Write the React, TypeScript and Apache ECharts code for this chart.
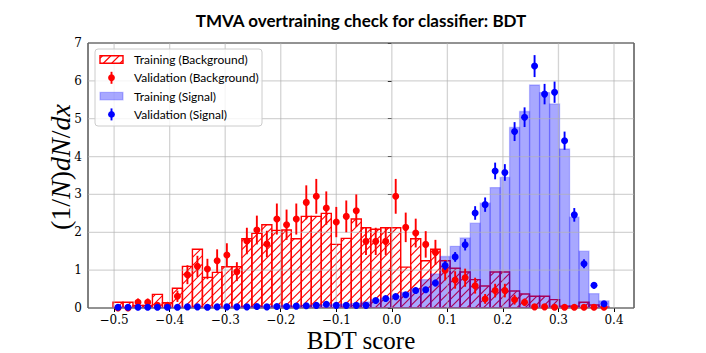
import React, { useEffect, useRef } from 'react';
import * as echarts from 'echarts';

const titleText = 'TMVA overtraining check for classifier: BDT';
const xLabel = 'BDT score';
const legendLabels = ['Training (Background)', 'Validation (Background)', 'Training (Signal)', 'Validation (Signal)'];

const binEdges = [
  -0.502, -0.484, -0.466, -0.448, -0.431, -0.413, -0.395, -0.377, -0.359, -0.341,
  -0.323, -0.306, -0.288, -0.270, -0.252, -0.234, -0.216, -0.198, -0.181, -0.163,
  -0.145, -0.127, -0.109, -0.091, -0.073, -0.055, -0.038, -0.020, -0.002, 0.016,
  0.034, 0.052, 0.070, 0.087, 0.105, 0.123, 0.141, 0.159, 0.177, 0.195,
  0.212, 0.230, 0.248, 0.266, 0.284, 0.302, 0.320, 0.337, 0.355, 0.373, 0.391,
];

const bkgTrain = [
  0.15, 0.15, 0.07, 0.07, 0.36, 0.14, 0.52, 1.10, 1.55, 0.81,
  0.94, 1.09, 1.09, 1.83, 1.97, 2.20, 2.05, 2.06, 1.83, 2.42,
  2.42, 2.50, 1.68, 1.84, 2.35, 2.12, 2.08, 2.12, 2.12, 1.08,
  1.83, 1.25, 1.55, 1.25, 1.05, 0.95, 0.75, 0.58, 0.95, 0.95,
  0.45, 0.37, 0.31, 0.31, 0.22, 0.05, 0.05, 0.15, 0.08, 0.02,
];

const bkgVal = [
  0.00, 0.00, 0.15, 0.15, 0.07, 0.07, 0.31, 0.88, 1.10, 1.03,
  1.25, 1.40, 0.96, 1.77, 2.06, 1.69, 2.35, 2.20, 2.35, 2.79,
  2.95, 2.64, 2.27, 2.42, 2.57, 1.76, 1.76, 1.76, 2.95, 2.13,
  1.98, 1.68, 1.47, 1.00, 0.74, 0.80, 0.59, 0.24, 0.46, 0.46,
  0.22, 0.15, 0.03, 0.03, 0.02, 0.02, 0.02, 0.02, 0.02, 0.02,
];

const bkgValErr = [
  0.00, 0.00, 0.10, 0.10, 0.07, 0.07, 0.15, 0.25, 0.28, 0.27,
  0.30, 0.31, 0.25, 0.35, 0.38, 0.35, 0.41, 0.40, 0.41, 0.45,
  0.46, 0.44, 0.40, 0.42, 0.43, 0.36, 0.36, 0.36, 0.46, 0.39,
  0.38, 0.35, 0.33, 0.27, 0.23, 0.24, 0.21, 0.13, 0.18, 0.18,
  0.13, 0.10, 0.05, 0.05, 0.04, 0.04, 0.04, 0.04, 0.04, 0.04,
];

const sigTrain = [
  0.02, 0.02, 0.01, 0.02, 0.01, 0.02, 0.02, 0.03, 0.02, 0.03,
  0.03, 0.03, 0.04, 0.04, 0.05, 0.05, 0.06, 0.07, 0.06, 0.07,
  0.08, 0.08, 0.10, 0.10, 0.12, 0.16, 0.22, 0.26, 0.32, 0.41,
  0.51, 0.75, 0.90, 1.36, 1.63, 1.85, 2.24, 2.77, 3.18, 3.45,
  4.77, 5.19, 5.89, 5.69, 5.39, 4.20, 2.40, 1.50, 0.38, 0.19,
];

const sigVal = [
  0.02, 0.02, 0.02, 0.02, 0.02, 0.02, 0.02, 0.03, 0.03, 0.02,
  0.03, 0.03, 0.03, 0.03, 0.04, 0.03, 0.04, 0.04, 0.05, 0.06,
  0.07, 0.10, 0.07, 0.07, 0.07, 0.07, 0.20, 0.25, 0.30, 0.35,
  0.46, 0.48, 0.66, 1.12, 1.35, 1.67, 2.51, 2.73, 3.62, 3.58,
  4.66, 5.04, 6.39, 5.65, 5.70, 4.42, 2.46, 1.17, 0.60, 0.11,
];

const sigValErr = [
  0.02, 0.02, 0.02, 0.02, 0.02, 0.02, 0.02, 0.02, 0.02, 0.02,
  0.02, 0.02, 0.02, 0.02, 0.02, 0.02, 0.02, 0.02, 0.03, 0.03,
  0.03, 0.04, 0.03, 0.03, 0.03, 0.03, 0.05, 0.06, 0.06, 0.07,
  0.08, 0.08, 0.09, 0.12, 0.13, 0.15, 0.18, 0.19, 0.22, 0.22,
  0.25, 0.26, 0.29, 0.27, 0.28, 0.24, 0.18, 0.12, 0.09, 0.04,
];

const xTicks = [-0.5, -0.4, -0.3, -0.2, -0.1, 0.0, 0.1, 0.2, 0.3, 0.4];
const yTicks = [0, 1, 2, 3, 4, 5, 6, 7];

const RED = '#ff0000';
const BLUE = '#0000ff';
const SERIF = '"DejaVu Serif", serif';
const SANS = 'Lato, "Open Sans", sans-serif';
const HATCH = 8.33;

function hatchLines(left: number, top: number, right: number, bot: number, color: string, lw: number) {
  const out: any[] = [];
  const kStart = Math.ceil((left + top) / HATCH);
  const kEnd = Math.floor((right + bot) / HATCH);
  for (let k = kStart; k <= kEnd; k++) {
    const c = k * HATCH;
    const xa = Math.max(left, c - bot);
    const xb = Math.min(right, c - top);
    if (xb - xa > 0.05) {
      out.push({
        type: 'line',
        shape: { x1: xa, y1: c - xa, x2: xb, y2: c - xb },
        style: { stroke: color, lineWidth: lw },
      });
    }
  }
  return out;
}

function fmtTick(v: number) {
  const s = Math.abs(v).toFixed(1);
  return v < -1e-9 ? '\u2212' + s : s;
}

export default function App() {
  const ref = useRef<HTMLDivElement>(null);
  useEffect(() => {
    document.body.style.margin = '0';
    const chart = echarts.init(ref.current!, null, { renderer: 'svg' });

    const hist = (vals: number[]) => vals.map((v, i) => [binEdges[i], binEdges[i + 1], v]);
    const centers = binEdges.slice(0, -1).map((e, i) => (e + binEdges[i + 1]) / 2);
    const pts = (vals: number[], errs: number[]) => vals.map((v, i) => [centers[i], v, errs[i]]);

    const renderHatch = (params: any, api: any) => {
      const p0 = api.coord([api.value(0), 0]);
      const p1 = api.coord([api.value(1), api.value(2)]);
      const left = p0[0], bot = p0[1], right = p1[0], top = p1[1];
      const children: any[] = hatchLines(left, top, right, bot, RED, 1.1);
      children.push({
        type: 'rect',
        shape: { x: left, y: top, width: right - left, height: bot - top },
        style: { fill: 'none', stroke: RED, lineWidth: 1.4 },
      });
      return { type: 'group', children };
    };

    const renderFilled = (params: any, api: any) => {
      const p0 = api.coord([api.value(0), 0]);
      const p1 = api.coord([api.value(1), api.value(2)]);
      return {
        type: 'rect',
        shape: { x: p0[0], y: p1[1], width: p1[0] - p0[0], height: p0[1] - p1[1] },
        style: { fill: 'rgba(0,0,255,0.34)', stroke: 'rgba(0,0,255,0.22)', lineWidth: 1.3 },
      };
    };

    const renderErr = (color: string) => (params: any, api: any) => {
      const x = api.value(0), v = api.value(1), e = api.value(2);
      if (!(e > 0)) return { type: 'group', children: [] };
      const a = api.coord([x, Math.max(0, v - e)]);
      const b = api.coord([x, v + e]);
      return {
        type: 'line',
        shape: { x1: a[0], y1: a[1], x2: b[0], y2: b[1] },
        style: { stroke: color, lineWidth: 1.9 },
      };
    };

    const renderVGrid = (params: any, api: any) => {
      const cs = params.coordSys;
      const x = api.coord([api.value(0), 0])[0];
      return {
        type: 'line',
        shape: { x1: x, y1: cs.y, x2: x, y2: cs.y + cs.height },
        style: { stroke: 'rgba(176,176,176,0.55)', lineWidth: 1.3 },
      };
    };
    const renderHGrid = (params: any, api: any) => {
      const cs = params.coordSys;
      const y = api.coord([0, api.value(1)])[1];
      return {
        type: 'line',
        shape: { x1: cs.x, y1: y, x2: cs.x + cs.width, y2: y },
        style: { stroke: 'rgba(176,176,176,0.55)', lineWidth: 1.3 },
      };
    };

    // legend (drawn manually to reproduce hatched / errorbar handles)
    const LX = 95, LY = 49, LW = 167, LH = 77;
    const rowY = [59.5, 77.8, 96.1, 114.4];
    const iconX = 100, iconW = 23, iconH = 7.5;
    const legendEls: any[] = [
      {
        type: 'rect',
        shape: { x: LX, y: LY, width: LW, height: LH, r: 3 },
        style: { fill: 'rgba(255,255,255,0.8)', stroke: '#cccccc', lineWidth: 1 },
        z: 100,
      },
    ];
    const r0 = rowY[0] - iconH / 2;
    hatchLines(iconX, r0, iconX + iconW, r0 + iconH, RED, 1.1).forEach((l) => legendEls.push({ ...l, z: 101 }));
    legendEls.push({
      type: 'rect',
      shape: { x: iconX, y: r0, width: iconW, height: iconH },
      style: { fill: 'none', stroke: RED, lineWidth: 1.4 },
      z: 101,
    });
    legendEls.push({
      type: 'rect',
      shape: { x: iconX, y: rowY[2] - iconH / 2, width: iconW, height: iconH },
      style: { fill: 'rgba(0,0,255,0.34)', stroke: 'rgba(0,0,255,0.22)', lineWidth: 1.3 },
      z: 101,
    });
    [[rowY[1], RED], [rowY[3], BLUE]].forEach(([y, c]: any) => {
      legendEls.push({
        type: 'line',
        shape: { x1: iconX + iconW / 2, y1: y - 6, x2: iconX + iconW / 2, y2: y + 6 },
        style: { stroke: c, lineWidth: 1.9 },
        z: 101,
      });
      legendEls.push({
        type: 'circle',
        shape: { cx: iconX + iconW / 2, cy: y, r: 3.4 },
        style: { fill: c },
        z: 102,
      });
    });
    legendLabels.forEach((t, i) => {
      legendEls.push({
        type: 'text',
        x: 134,
        y: rowY[i],
        style: { text: t, fontFamily: SANS, fontSize: 12, fill: '#000', align: 'left', verticalAlign: 'middle' },
        z: 101,
      });
    });

    const option: any = {
      animation: false,
      grid: { left: 88, right: 72, top: 43, bottom: 45, show: true, borderColor: '#000', borderWidth: 1, backgroundColor: 'transparent' },
      xAxis: {
        type: 'value',
        min: -0.547,
        max: 0.436,
        axisLine: { show: false },
        splitLine: { show: false },
        axisTick: { show: true, customValues: xTicks, length: 4, lineStyle: { color: '#000', width: 1 } },
        axisLabel: { customValues: xTicks, formatter: fmtTick, fontFamily: SERIF, fontSize: 12, color: '#000', margin: 6 },
      },
      yAxis: {
        type: 'value',
        min: 0,
        max: 7,
        interval: 1,
        axisLine: { show: false },
        splitLine: { show: false },
        axisTick: { show: true, length: 4, lineStyle: { color: '#000', width: 1 } },
        axisLabel: { fontFamily: SERIF, fontSize: 12, color: '#000', margin: 6 },
      },
      series: [
        { type: 'custom', name: 'bkgTrain', data: hist(bkgTrain), renderItem: renderHatch, clip: true, z: 1, silent: true },
        { type: 'custom', name: 'sigTrain', data: hist(sigTrain), renderItem: renderFilled, clip: true, z: 2, silent: true },
        { type: 'custom', name: 'vgrid', data: xTicks.map((v) => [v, 0]), renderItem: renderVGrid, z: 3, silent: true },
        { type: 'custom', name: 'hgrid', data: yTicks.map((v) => [0, v]), renderItem: renderHGrid, z: 3, silent: true },
        { type: 'custom', name: 'bkgErr', data: pts(bkgVal, bkgValErr), renderItem: renderErr(RED), clip: true, z: 4, silent: true },
        { type: 'scatter', name: 'bkgVal', data: pts(bkgVal, bkgValErr), symbol: 'circle', symbolSize: 7, itemStyle: { color: RED, opacity: 1 }, z: 5, silent: true },
        { type: 'custom', name: 'sigErr', data: pts(sigVal, sigValErr), renderItem: renderErr(BLUE), clip: true, z: 6, silent: true },
        { type: 'scatter', name: 'sigVal', data: pts(sigVal, sigValErr), symbol: 'circle', symbolSize: 7, itemStyle: { color: BLUE, opacity: 1 }, z: 7, silent: true },
      ],
      graphic: [
        {
          type: 'text',
          x: 361,
          y: 20,
          style: { text: titleText, fontFamily: SANS, fontWeight: 'bold', fontSize: 17, fill: '#000', align: 'center', verticalAlign: 'middle' },
        },
        {
          type: 'text',
          x: 361,
          y: 340,
          style: { text: xLabel, fontFamily: '"Liberation Serif", serif', fontSize: 25, fill: '#000', align: 'center', verticalAlign: 'middle' },
        },
        {
          type: 'text',
          x: 60,
          y: 167,
          rotation: Math.PI / 2,
          style: {
            text: '{u|(1/}{i|N}{u|)}{i|dN}{u|/}{i|dx}',
            align: 'center',
            verticalAlign: 'middle',
            rich: {
              u: { fontFamily: '"Liberation Serif", serif', fontSize: 28, fill: '#000' },
              i: { fontFamily: '"Liberation Serif", serif', fontStyle: 'italic', fontSize: 28, fill: '#000' },
            },
          },
        },
        ...legendEls,
      ],
    };

    chart.setOption(option);
    return () => chart.dispose();
  }, []);
  return <div ref={ref} style={{ width: 706, height: 353 }} />;
}
